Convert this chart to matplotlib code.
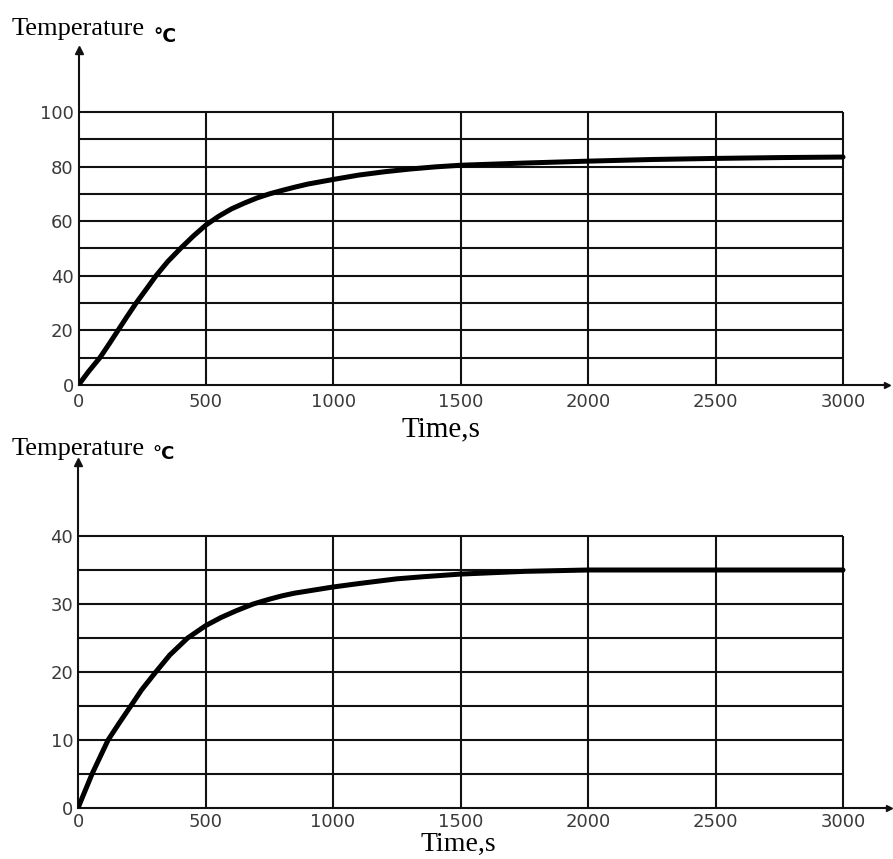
import matplotlib
matplotlib.use("Agg")
import matplotlib.pyplot as plt

# ---------------- data ----------------
time_top = [0, 40, 84, 120, 155, 190, 226, 270, 304, 350, 400, 450, 500, 550, 600, 650, 700, 749, 800,
            850, 900, 1000, 1100, 1200, 1300, 1400, 1500, 1750, 2000, 2250, 2500, 2750, 3000]
temp_top = [0, 5, 10, 15, 20, 25, 30, 35.6, 40, 45.2, 50, 54.5, 58.6, 61.8, 64.5, 66.6, 68.5, 70, 71.3,
            72.5, 73.6, 75.3, 76.9, 78.1, 79.1, 79.9, 80.5, 81.3, 82.0, 82.6, 83.0, 83.3, 83.5]

time_bot = [0, 55, 118, 160, 207, 250, 305, 360, 430, 500, 560, 620, 687, 750, 800, 850, 900, 1000,
            1100, 1250, 1350, 1500, 1750, 2000, 2500, 3000]
temp_bot = [0, 5, 10, 12.4, 15, 17.4, 20, 22.5, 25, 26.8, 28.0, 29.0, 30, 30.7, 31.2, 31.6, 31.9, 32.5,
            33.0, 33.7, 34.0, 34.4, 34.8, 35.0, 35.0, 35.0]

x_ticks = [0, 500, 1000, 1500, 2000, 2500, 3000]
y_ticks_top = [0, 20, 40, 60, 80, 100]
y_grid_top = [10, 20, 30, 40, 50, 60, 70, 80, 90, 100]
y_ticks_bot = [0, 10, 20, 30, 40]
y_grid_bot = [5, 10, 15, 20, 25, 30, 35, 40]

y_label = "Temperature"
unit_label = "°C"
x_label = "Time,s"

# ---------------- figure ----------------
W, H = 893, 859
fig = plt.figure(figsize=(W / 100, H / 100), dpi=100)

def px_axes(x0, x3000, y0, ytop_val_px, ytop_val, x_end, y_end):
    """create axes so that data (0,0) maps to pixel (x0,y0)."""
    sx = (x3000 - x0) / 3000.0
    sy = (y0 - ytop_val_px) / ytop_val
    xmax = (x_end - x0) / sx
    ymax = (y0 - y_end) / sy
    ax = fig.add_axes([x0 / W, 1 - y0 / H, (x_end - x0) / W, (y0 - y_end) / H])
    ax.set_xlim(0, xmax)
    ax.set_ylim(0, ymax)
    return ax, xmax, ymax

def style(ax, xmax, ymax, ygrid, yticks, ytop, xpad):
    lw = 1.5
    for s in ["top", "right"]:
        ax.spines[s].set_visible(False)
    for s in ["left", "bottom"]:
        ax.spines[s].set_linewidth(lw)
        ax.spines[s].set_color("#111111")
    ax.hlines(ygrid, 0, 3000, colors="#111111", linewidth=lw, zorder=1)
    ax.vlines(x_ticks[1:], 0, ytop, colors="#111111", linewidth=lw, zorder=1)
    ax.set_xticks(x_ticks)
    ax.set_yticks(yticks)
    ax.tick_params(length=0, labelsize=13, labelcolor="#3a3a3a")
    ax.tick_params(axis="x", pad=xpad)
    ax.tick_params(axis="y", pad=3.5)
    ax.plot([0], [ymax], marker="^", color="#111111", markersize=6, clip_on=False, zorder=5)
    ax.plot([xmax], [0], marker=">", color="#111111", markersize=5, clip_on=False, zorder=5)
    ax.patch.set_alpha(0)

# top panel
ax1, xm1, ym1 = px_axes(78.5, 843, 385, 112, 100, 887, 50)
style(ax1, xm1, ym1, y_grid_top, y_ticks_top, 100, 5.5)
ax1.plot(time_top, temp_top, color="black", linewidth=3.6, solid_capstyle="round",
         solid_joinstyle="round", zorder=4)

# bottom panel
ax2, xm2, ym2 = px_axes(78, 843, 808, 536, 40, 889, 462)
style(ax2, xm2, ym2, y_grid_bot, y_ticks_bot, 40, 3.5)
ax2.plot(time_bot, temp_bot, color="black", linewidth=3.6, solid_capstyle="round",
         solid_joinstyle="round", zorder=4)

def ftext(x, y, s, **kw):
    fig.text(x / W, 1 - y / H, s, **kw)

serif = ["Liberation Serif", "DejaVu Serif"]
# axis titles
ftext(12, 35, y_label, family=serif, fontsize=19, va="baseline", ha="left")
ftext(153, 42, unit_label, family="DejaVu Sans", fontweight="bold", fontsize=13.5, va="baseline", ha="left")
ftext(12, 455, y_label, family=serif, fontsize=19, va="baseline", ha="left")
ftext(152, 459, unit_label, family="DejaVu Sans", fontweight="bold", fontsize=13, va="baseline", ha="left")

ftext(441, 436, x_label, family=serif, fontsize=21, va="baseline", ha="center")
ftext(458, 851, x_label, family=serif, fontsize=20, va="baseline", ha="center")

fig.savefig("out.png", dpi=100)
